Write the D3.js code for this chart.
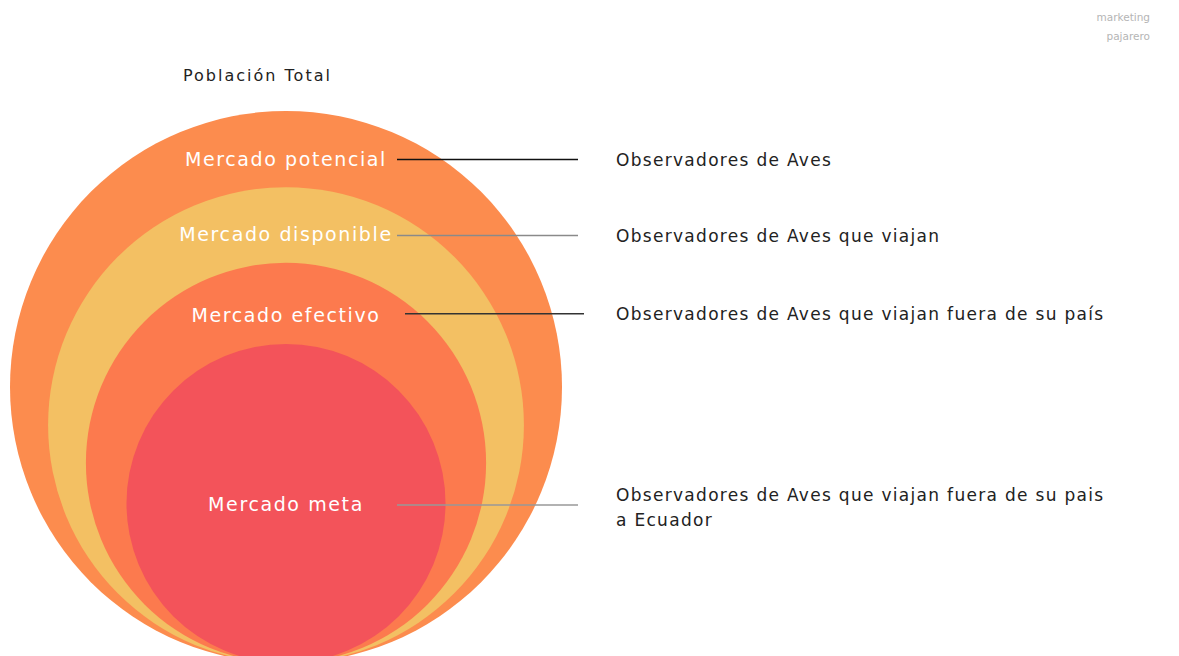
<!DOCTYPE html>
<html>
<head>
<meta charset="utf-8">
<script src="https://cdn.jsdelivr.net/npm/d3@7"></script>
<style>
  body { margin: 0; background: #fff; }
  svg { display: block; }
  text { font-family: "DejaVu Sans", sans-serif; }
</style>
</head>
<body>
<svg id="chart" width="1179" height="656"></svg>
<script>
'use strict';

// market levels, outer to inner
var markets = ["Mercado potencial", "Mercado disponible", "Mercado efectivo", "Mercado meta"];
var descriptions = [
    ["Observadores de Aves"],
    ["Observadores de Aves que viajan"],
    ["Observadores de Aves que viajan fuera de su país"],
    ["Observadores de Aves que viajan fuera de su pais", "a Ecuador"]
];
// relative size of each circle (% of the total)
var shares = [100, 86.2, 72.5, 57.8];
var colors = ["#FC8C4E", "#F3C063", "#FC7A4E", "#F3535A"];
var lineColors = ["#111", "#8a8a8a", "#333", "#999"];

var svg = d3.select("#chart");

var cx = 286, baseY = 663;
var r = d3.scaleLinear().domain([0, 100]).range([0, 276]);

var levels = markets.map(function(m, i) {
    var rad = r(shares[i]);
    return { label: m, desc: descriptions[i], rad: rad, cy: baseY - rad, top: baseY - 2 * rad, i: i };
});
levels.forEach(function(d, i) {
    if (i < levels.length - 1) {
        d.ly = (d.top + levels[i + 1].top) / 2 + 11;
    } else {
        d.ly = d.cy + 2;
    }
});

// circles
svg.selectAll(".ring")
    .data(levels)
    .enter().append("circle")
    .attr("class", "ring")
    .attr("cx", cx)
    .attr("cy", function(d) { return d.cy; })
    .attr("r", function(d) { return d.rad; })
    .style("fill", function(d) { return colors[d.i]; });

// labels inside
svg.selectAll(".ringLabel")
    .data(levels)
    .enter().append("text")
    .attr("class", "ringLabel")
    .attr("x", cx)
    .attr("y", function(d) { return d.ly + (d.i === 2 ? 2 : 0); })
    .attr("text-anchor", "middle")
    .attr("dominant-baseline", "middle")
    .style("fill", "#fff")
    .style("font-size", "19px")
    .style("letter-spacing", "1.6px")
    .text(function(d) { return d.label; });

// leader lines
svg.selectAll(".leader")
    .data(levels)
    .enter().append("line")
    .attr("class", "leader")
    .attr("x1", function(d) { return d.i === 2 ? cx + 119 : cx + 111; })
    .attr("x2", function(d) { return d.i === 2 ? 584 : 578; })
    .attr("y1", function(d) { return d.ly - 0.5; })
    .attr("y2", function(d) { return d.ly - 0.5; })
    .style("stroke", function(d) { return lineColors[d.i]; })
    .style("stroke-width", 1.5);

// descriptions on the right
var desc = svg.selectAll(".desc")
    .data(levels)
    .enter().append("text")
    .attr("class", "desc")
    .attr("x", 616)
    .attr("y", function(d) { return d.desc.length > 1 ? d.ly - 9 : d.ly + 1; })
    .attr("dominant-baseline", "middle")
    .style("fill", "#222")
    .style("font-size", "17px")
    .style("letter-spacing", "1.3px");

desc.selectAll("tspan")
    .data(function(d) { return d.desc; })
    .enter().append("tspan")
    .attr("x", 616)
    .attr("dy", function(d, i) { return i === 0 ? 0 : 25; })
    .text(function(d) { return d; });

svg.append("text")
    .attr("x", 183)
    .attr("y", 76)
    .attr("dominant-baseline", "middle")
    .style("fill", "#222")
    .style("font-size", "16px")
    .style("letter-spacing", "2px")
    .text("Población Total");

svg.append("text")
    .attr("x", 1150)
    .attr("y", 18)
    .attr("text-anchor", "end")
    .attr("dominant-baseline", "middle")
    .style("fill", "#b5b5b5")
    .style("font-size", "10.5px")
    .selectAll("tspan")
    .data(["marketing", "pajarero"])
    .enter().append("tspan")
    .attr("x", 1150)
    .attr("dy", function(d, i) { return i === 0 ? 0 : 19; })
    .text(function(d) { return d; });
</script>
</body>
</html>
